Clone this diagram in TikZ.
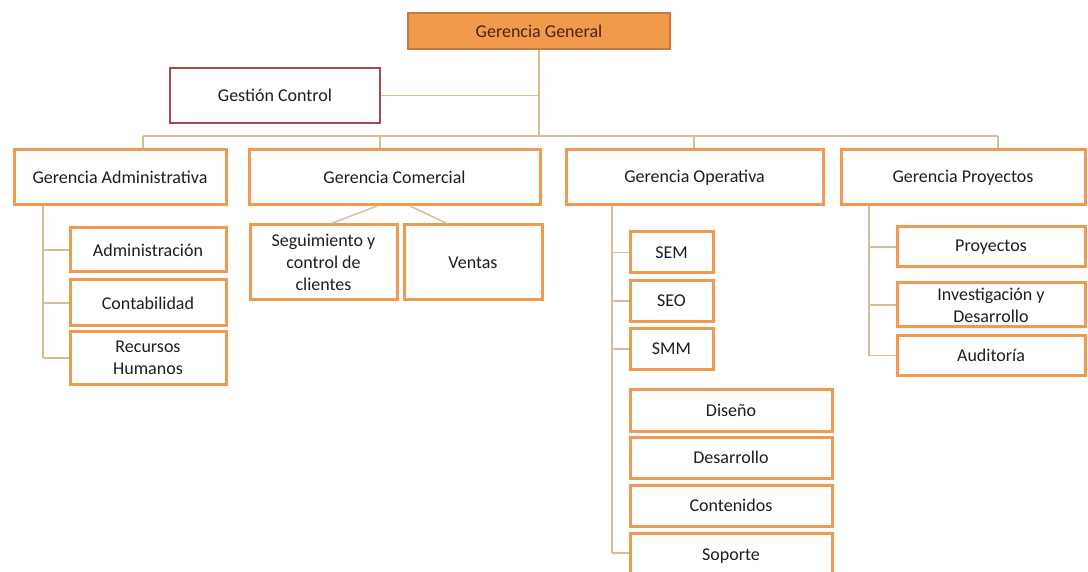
\documentclass[tikz,border=0pt]{standalone}
\usepackage{fontspec}
\setmainfont{Carlito}
\usetikzlibrary{calc}
\definecolor{boxor}{HTML}{EE9A50}
\definecolor{lineor}{HTML}{D8BC98}
\definecolor{ggfill}{HTML}{F29A4C}
\definecolor{ggdraw}{HTML}{C8783C}
\definecolor{gcdraw}{HTML}{A84650}
\definecolor{txt}{HTML}{1E1E1E}
\definecolor{ggtxt}{HTML}{4A2418}
\begin{document}
\begin{tikzpicture}[x=1pt,y=-1pt,
  box/.style={draw=boxor, line width=3pt, fill=white, text=txt,
    font=\fontsize{18}{22}\selectfont, align=center, inner sep=0pt},
  conn/.style={draw=lineor, line width=1.4pt}]
\clip (0,0) rectangle (1088,572);
\fill[white] (0,0) rectangle (1088,572);

% top
\node[box, fill=ggfill, draw=ggdraw, line width=2.5pt, text=ggtxt,
  minimum width=262pt, minimum height=36pt] (gg) at (539,31) {Gerencia General};
\node[box, draw=gcdraw, line width=2.5pt,
  minimum width=210pt, minimum height=55pt] (gc) at (275,95.5) {Gestión Control};

% level 2
\node[box, minimum width=212pt, minimum height=55pt] (adm) at (120,177.5) {Gerencia Administrativa};
\node[box, minimum width=291pt, minimum height=55pt] (com) at (394.5,177.5) {Gerencia Comercial};
\node[box, minimum width=257pt, minimum height=55pt] (ope) at (694.5,177.5) {Gerencia Operativa};
\node[box, minimum width=244pt, minimum height=55pt] (pro) at (963,177.5) {Gerencia Proyectos};

% administrativa
\node[box, minimum width=156pt, minimum height=44pt] (a1) at (148,250) {Administración};
\node[box, minimum width=156pt, minimum height=46pt] (a2) at (148,303) {Contabilidad};
\node[box, minimum width=156pt, minimum height=52pt] (a3) at (148,358) {Recursos\\Humanos};

% comercial
\node[box, minimum width=147pt, minimum height=75pt] (c1) at (323.5,262.5) {Seguimiento y\\control de\\clientes};
\node[box, minimum width=138pt, minimum height=75pt] (c2) at (473,262.5) {Ventas};

% operativa
\node[box, minimum width=83pt, minimum height=41pt] (o1) at (671.5,252.5) {SEM};
\node[box, minimum width=83pt, minimum height=41pt] (o2) at (671.5,301) {SEO};
\node[box, minimum width=83pt, minimum height=41pt] (o3) at (671.5,349) {SMM};
\node[box, minimum width=202pt, minimum height=42pt] (o4) at (731,410) {Diseño};
\node[box, minimum width=202pt, minimum height=41pt] (o5) at (731,457.5) {Desarrollo};
\node[box, minimum width=202pt, minimum height=41pt] (o6) at (731,505.5) {Contenidos};
\node[box, minimum width=202pt, minimum height=46pt] (o7) at (731,556) {Soporte};

% proyectos
\node[box, minimum width=188pt, minimum height=40pt] (p1) at (991,247) {Proyectos};
\node[box, minimum width=188pt, minimum height=44pt] (p2) at (991,305) {Investigación y\\Desarrollo};
\node[box, minimum width=188pt, minimum height=40pt] (p3) at (991,355.5) {Auditoría};

% connectors
\coordinate (busL) at (143,136);
\coordinate (busR) at (998,136);
\coordinate (dC) at (380,136);
\coordinate (dO) at (694,136);
\draw[conn] (gg.south) -- (gg.south |- busL);
\draw[conn] (gc.east) -- (gc.east -| gg.south);
\draw[conn] (busL) -- (busR);
\draw[conn] (busL) -- (busL |- adm.north);
\draw[conn] (dC) -- (dC |- com.north);
\draw[conn] (dO) -- (dO |- ope.north);
\draw[conn] (busR) -- (busR |- pro.north);

% administrativa trunk
\coordinate (ta) at (43,206);
\draw[conn] (ta) -- (ta |- a3);
\draw[conn] (ta |- a1) -- (a1.west);
\draw[conn] (ta |- a2) -- (a2.west);
\draw[conn] (ta |- a3) -- (a3.west);

% comercial
\coordinate (cs1) at (377,206);
\coordinate (cs2) at (410,206);
\coordinate (ce1) at (330,224);
\coordinate (ce2) at (448,224);
\draw[conn] (cs1) -- (ce1);
\draw[conn] (cs2) -- (ce2);

% operativa trunk
\coordinate (to) at (612,206);
\coordinate (tsop) at (612,553);
\draw[conn] (to) -- (tsop);
\draw[conn] (to |- o1) -- (o1.west);
\draw[conn] (to |- o2) -- (o2.west);
\draw[conn] (to |- o3) -- (o3.west);
\draw[conn] (tsop) -- (tsop -| o7.west);

% proyectos trunk
\coordinate (tp) at (869,206);
\draw[conn] (tp) -- (tp |- p3);
\draw[conn] (tp |- p1) -- (p1.west);
\draw[conn] (tp |- p2) -- (p2.west);
\draw[conn] (tp |- p3) -- (p3.west);
\end{tikzpicture}
\end{document}
